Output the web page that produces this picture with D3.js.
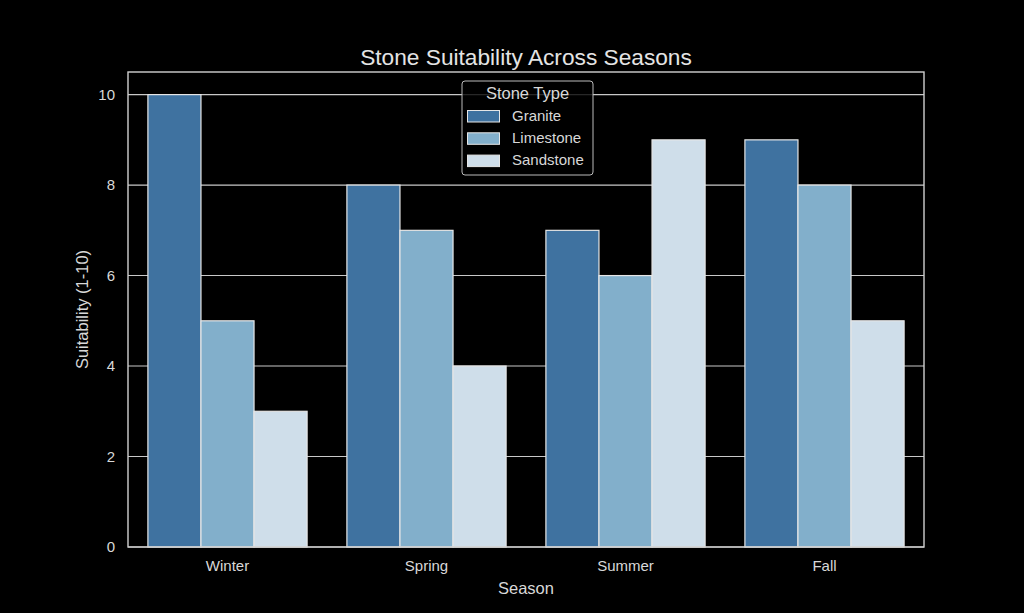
<!DOCTYPE html>
<html><head><meta charset="utf-8">
<script src="https://cdn.jsdelivr.net/npm/d3@7"></script>
<style>html,body{margin:0;padding:0;background:#000;}svg{display:block;}</style>
</head><body>
<svg id="chart" width="1024" height="613"></svg>
<script>
const seasons = ["Winter", "Spring", "Summer", "Fall"];
const stoneTypes = ["Granite", "Limestone", "Sandstone"];
const granite = [10, 8, 7, 9];
const limestone = [5, 7, 6, 8];
const sandstone = [3, 4, 9, 5];
const yTicks = [0, 2, 4, 6, 8, 10];
const colors = ["#3f72a0", "#82afcb", "#cfdeea"];
const title = "Stone Suitability Across Seasons";
const xLabel = "Season";
const yLabel = "Suitability (1-10)";
const legendTitle = "Stone Type";

const series = [granite, limestone, sandstone];
const svg = d3.select("#chart");
const W = 1024, H = 613;
svg.append("rect").attr("width", W).attr("height", H).attr("fill", "#000");

const m = {left: 128, right: 924, top: 72, bottom: 547};
const x = d3.scaleBand().domain(seasons).range([m.left, m.right]).paddingInner(0).paddingOuter(0);
const inner = d3.scaleBand().domain(stoneTypes).range([0, x.bandwidth() * 0.8]);
const y = d3.scaleLinear().domain([0, 10.5]).range([m.bottom, m.top]);
const txt = "#d8d8d8";
const font = "Liberation Sans, Arial, sans-serif";

// grid
svg.append("g").selectAll("line").data(yTicks).join("line")
  .attr("x1", m.left).attr("x2", m.right)
  .attr("y1", d => y(d)).attr("y2", d => y(d))
  .attr("stroke", "#c8c8c8").attr("stroke-width", 1.1);

// bars
const gBars = svg.append("g");
series.forEach((vals, si) => {
  gBars.selectAll(null).data(vals.map((v, i) => ({season: seasons[i], v}))).join("rect")
    .attr("x", d => x(d.season) + x.bandwidth() * 0.1 + inner(stoneTypes[si]))
    .attr("width", inner.bandwidth())
    .attr("y", d => y(d.v))
    .attr("height", d => y(0) - y(d.v))
    .attr("fill", colors[si])
    .attr("stroke", "#e6e6e6").attr("stroke-width", 1.2);
});

// frame
svg.append("rect").attr("x", m.left).attr("y", m.top)
  .attr("width", m.right - m.left).attr("height", m.bottom - m.top)
  .attr("fill", "none").attr("stroke", "#d0d0d0").attr("stroke-width", 1.4);

// axes
const yAxis = d3.axisLeft(y).tickValues(yTicks).tickSize(0).tickPadding(13);
const gy = svg.append("g").attr("transform", `translate(${m.left},0)`).call(yAxis);
const xAxis = d3.axisBottom(x).tickSize(0).tickPadding(13);
const gx = svg.append("g").attr("transform", `translate(0,${m.bottom})`).call(xAxis);
[gx, gy].forEach(g => {
  g.select(".domain").remove();
  g.selectAll("text").attr("fill", txt).attr("font-size", 15).attr("font-family", font);
});

// labels
svg.append("text").attr("x", (m.left + m.right) / 2).attr("y", 65)
  .attr("text-anchor", "middle").attr("fill", "#e4e4e4")
  .attr("font-size", 22.7).attr("font-family", font).text(title);
svg.append("text").attr("x", (m.left + m.right) / 2).attr("y", 594)
  .attr("text-anchor", "middle").attr("fill", txt)
  .attr("font-size", 16.5).attr("font-family", font).text(xLabel);
svg.append("text").attr("transform", `translate(88,${(m.top + m.bottom) / 2}) rotate(-90)`)
  .attr("text-anchor", "middle").attr("fill", txt)
  .attr("font-size", 16.5).attr("font-family", font).text(yLabel);

// legend
const lg = svg.append("g").attr("transform", "translate(462,81)");
lg.append("rect").attr("width", 131).attr("height", 94).attr("rx", 3)
  .attr("fill", "#000").attr("fill-opacity", 0.8)
  .attr("stroke", "#bbbbbb").attr("stroke-width", 1);
lg.append("text").attr("x", 65.5).attr("y", 17.5).attr("text-anchor", "middle")
  .attr("fill", txt).attr("font-size", 16.5).attr("font-family", font).text(legendTitle);
stoneTypes.forEach((s, i) => {
  lg.append("rect").attr("x", 5.5).attr("y", 29.5 + i * 22.3).attr("width", 32).attr("height", 11.5)
    .attr("fill", colors[i]).attr("stroke", "#e6e6e6").attr("stroke-width", 1);
  lg.append("text").attr("x", 50).attr("y", 39.5 + i * 22.3)
    .attr("fill", txt).attr("font-size", 15).attr("font-family", font).text(s);
});
</script>
</body></html>
